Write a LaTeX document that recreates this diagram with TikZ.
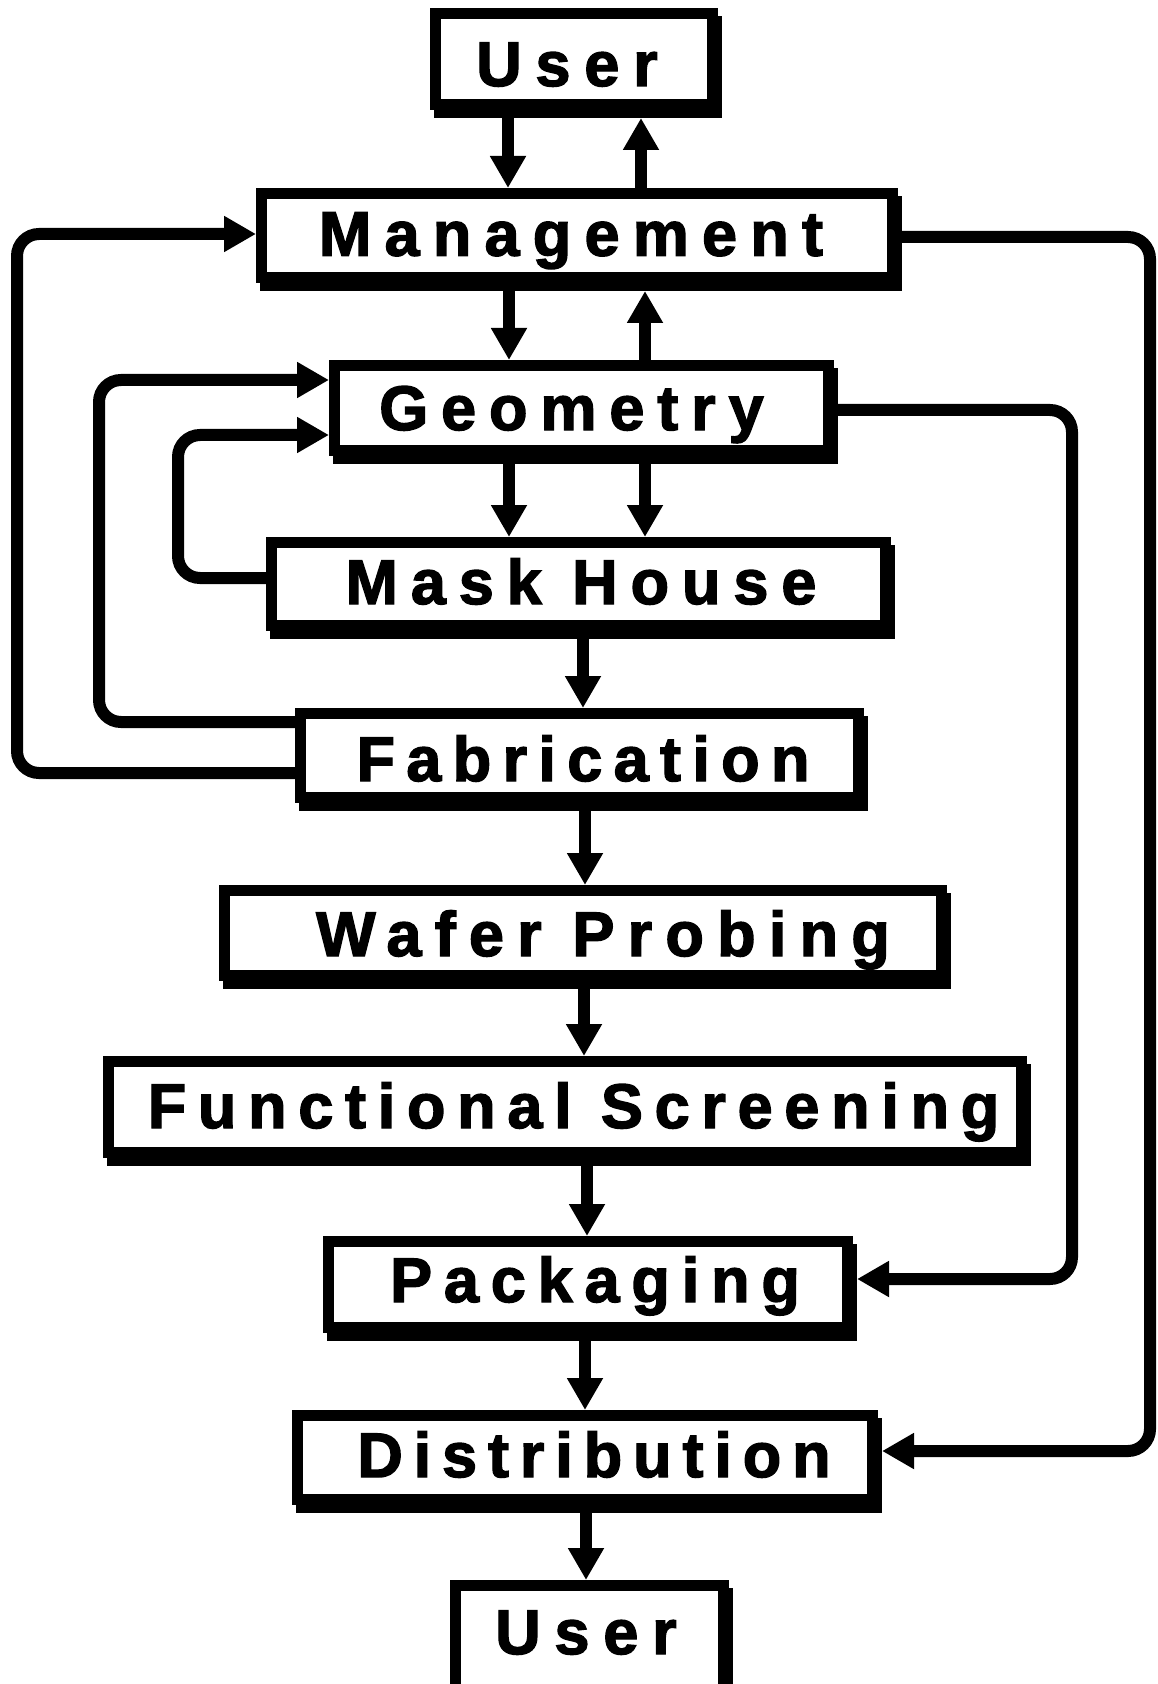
\documentclass[tikz,border=0pt]{standalone}
\usepackage{fontspec}
\setmainfont{Liberation Sans}[LetterSpace=21, BoldFeatures={FakeBold=2.2}]
\usetikzlibrary{arrows.meta}
\tikzset{
  box/.style={draw=black, line width=5.5pt, fill=white, inner sep=0pt},
  shadowfill/.style={fill=black},
  lbl/.style={anchor=base, inner sep=0pt, font=\fontsize{31.5pt}{36pt}\selectfont\bfseries},
  conn/.style={draw=black, line width=6pt, rounded corners=11pt,
    -{Triangle[length=16pt,width=17pt]}},
}
\newcommand\bx[5]{%
  \fill[shadowfill] ({#2-#4/2+4},{#3-#5/2+8}) rectangle ({#2+#4/2+4},{#3+#5/2+8});
  \node[box, minimum width={(#4-11)*0.5pt}, minimum height={(#5-11)*0.5pt}] (#1) at (#2,#3) {};}
\newcommand\tx[5]{\node[lbl] (#1) at (#2,#3) {\addfontfeatures{LetterSpace=#5}#4};}
\begin{document}
\begin{tikzpicture}[x=0.5pt,y=-0.5pt]
\useasboundingbox (0,0) rectangle (1157,1684);
\fill[white] (0,0) rectangle (1157,1684);
\clip (0,0) rectangle (1157,1684);
% boxes
\bx{user1}{574}{59}{288}{102}
\bx{mgmt}{577}{235.5}{642}{95}
\bx{geo}{581.5}{408}{505}{96}
\bx{mask}{578.5}{584}{625}{94}
\bx{fab}{579.5}{755.5}{569}{95}
\bx{wafer}{583}{933}{728}{96}
\bx{func}{565}{1107}{924}{102}
\bx{pack}{588}{1284.5}{530}{97}
\bx{dist}{585}{1457.5}{586}{95}
\bx{user2}{589.5}{1640}{279}{120}
% labels
\tx{user1t}{567}{86}{User}{22}
\tx{mgmtt}{571}{255.7}{Management}{21}
\tx{geot}{571.5}{430}{Geometry}{20.5}
\tx{maskt}{581}{604}{Mask House}{20.5}
\tx{fabt}{583}{781}{Fabrication}{18}
\tx{wafert}{603}{956}{Wafer Probing}{21}
\tx{funct}{573.5}{1128}{Functional Screening}{18.6}
\tx{packt}{595}{1302}{Packaging}{18.8}
\tx{distt}{594}{1477}{Distribution}{17.3}
\tx{user2t}{586}{1654}{User}{22}
% vertical connectors
\draw[conn] (user1.south -| 508,0) -- (mgmt.north -| 508,0);
\draw[conn] (mgmt.north -| 641,0) -- ([yshift=-4pt]user1.south -| 641,0);
\draw[conn] (mgmt.south -| 509,0) -- (geo.north -| 509,0);
\draw[conn] (geo.north -| 645,0) -- ([yshift=-4pt]mgmt.south -| 645,0);
\draw[conn] (geo.south -| 509,0) -- (mask.north -| 509,0);
\draw[conn] (geo.south -| 645,0) -- (mask.north -| 645,0);
\draw[conn] (mask.south -| 583,0) -- (fab.north -| 583,0);
\draw[conn] (fab.south -| 585,0) -- (wafer.north -| 585,0);
\draw[conn] (wafer.south -| 584,0) -- (func.north -| 584,0);
\draw[conn] (func.south -| 587,0) -- (pack.north -| 587,0);
\draw[conn] (pack.south -| 585,0) -- (dist.north -| 585,0);
\draw[conn] (dist.south -| 586,0) -- (user2.north -| 586,0);
% feedback loops
\draw[conn] (fab.west |- 0,773) -- (17,773) |- (mgmt.west |- 0,234);
\draw[conn] (fab.west |- 0,722) -- (99,722) |- (geo.west |- 0,380);
\draw[conn] (mask.west |- 0,578) -- (178,578) |- (geo.west |- 0,435);
\draw[conn] (mgmt.east |- 0,237) -- (1150,237) |- ([xshift=2pt]dist.east |- 0,1451);
\draw[conn] (geo.east |- 0,410) -- (1072,410) |- ([xshift=2pt]pack.east |- 0,1279);
\end{tikzpicture}
\end{document}
